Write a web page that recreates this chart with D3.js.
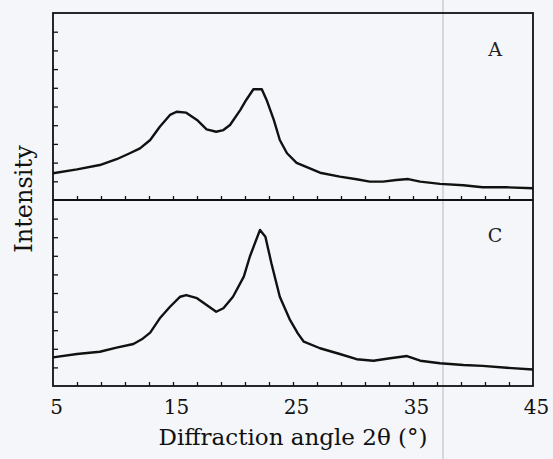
<!DOCTYPE html>
<html>
  <head>
    <meta charset="utf-8">
    <title>xrd A and C</title>
    <style>
      body {
        margin: 0;
        background-color: #f4f6f9;
      }
      svg {
        display: block;
      }
      .tick text {
        font-family: "DejaVu Serif", serif;
      }
    </style>
  </head>
  <body>
    <div id="chart"></div>

    <script src="https://d3js.org/d3.v7.min.js"></script>
    <script>
    // pattern A (upper panel)
    var angleA = [5, 7, 8.9, 10.3, 11.4, 12.25, 13.1, 13.9, 14.75, 15.3,
      16.1, 17, 17.8, 18.6, 19.2, 19.75, 20.6, 21.1, 21.7, 22.4,
      22.8, 23.4, 23.9, 24.5, 25.3, 25.9, 27.25, 28.9, 30.3, 31.4,
      32.5, 33.6, 34.6, 35.6, 37.25, 39.2, 40.8, 42.8, 45];
    var intensityA = [1.43, 1.64, 1.87, 2.18, 2.5, 2.76, 3.21, 3.92, 4.55, 4.72,
      4.67, 4.28, 3.78, 3.65, 3.74, 4.01, 4.81, 5.35, 5.92, 5.92,
      5.35, 4.28, 3.21, 2.5, 1.99, 1.82, 1.46, 1.25, 1.11, 0.98,
      0.98, 1.07, 1.12, 0.98, 0.86, 0.79, 0.68, 0.68, 0.63];

    // pattern C (lower panel)
    var angleC = [5, 7, 8.9, 10.3, 11.7, 12.4, 13.1, 13.9, 14.75, 15.6,
      16.1, 17, 17.8, 18.6, 19.2, 20, 20.9, 21.4, 22.25, 22.7,
      23.2, 23.9, 24.75, 25.4, 25.9, 27.25, 28.9, 30.3, 31.7, 33.1,
      34.5, 35.6, 37.25, 39.2, 40.8, 42.8, 45];
    var intensityC = [1.54, 1.72, 1.84, 2.06, 2.26, 2.51, 2.87, 3.64, 4.26, 4.8,
      4.89, 4.72, 4.35, 3.99, 4.18, 4.8, 5.88, 6.95, 8.39, 8.03,
      6.6, 4.8, 3.55, 2.83, 2.38, 2.03, 1.72, 1.44, 1.36, 1.49,
      1.61, 1.36, 1.22, 1.13, 1.08, 0.98, 0.89];

    var xLabels = [5, 15, 25, 35, 45];
    var xMinor = [7, 9, 11, 13, 15, 17, 19, 21, 23, 25, 27, 29, 31, 33, 35, 37, 39, 41, 43];
    var yMinor = [1, 2, 3, 4, 5, 6, 7, 8, 9];
    var panelNames = ["A", "C"];

    var width = 553;
    var height = 459;
    var padLeft = 53, padRight = 533, padTop = 13, padMid = 200, padBottom = 386;

    var svg = d3.select("#chart").append("svg")
      .attr("width", width)
      .attr("height", height);

    // faint fold line from the scan
    svg.append("line")
      .attr("x1", 443).attr("x2", 443)
      .attr("y1", 0).attr("y2", height)
      .attr("stroke", "#c9ced6")
      .attr("stroke-width", 1.5);

    var x = d3.scaleLinear().domain([5, 45]).range([padLeft, padRight]);
    var yA = d3.scaleLinear().domain([0, 10]).range([padMid, padTop]);
    var yC = d3.scaleLinear().domain([0, 10]).range([padBottom, padMid]);

    function minorAxes(y, yPos) {
      svg.append("g")
        .attr("transform", "translate(0," + yPos + ")")
        .call(d3.axisTop(x).tickValues(xMinor).tickSize(4).tickFormat(""))
        .call(function(g) { g.select(".domain").remove(); })
        .selectAll("line").attr("stroke", "#111").attr("stroke-width", 1.3);
      svg.append("g")
        .attr("transform", "translate(" + padLeft + ",0)")
        .call(d3.axisRight(y).tickValues(yMinor).tickSize(5).tickFormat(""))
        .call(function(g) { g.select(".domain").remove(); })
        .selectAll("line").attr("stroke", "#111").attr("stroke-width", 1.3);
    }
    minorAxes(yA, padMid);
    minorAxes(yC, padBottom);

    // frames
    svg.append("rect")
      .attr("x", padLeft).attr("y", padTop)
      .attr("width", padRight - padLeft).attr("height", padBottom - padTop)
      .attr("fill", "none")
      .attr("stroke", "#111")
      .attr("stroke-width", 1.8);
    svg.append("line")
      .attr("x1", padLeft).attr("x2", padRight)
      .attr("y1", padMid).attr("y2", padMid)
      .attr("stroke", "#111")
      .attr("stroke-width", 1.8);

    // curves
    var lineA = d3.line()
      .x(function(d, i) { return x(angleA[i]); })
      .y(function(d) { return yA(d); });
    var lineC = d3.line()
      .x(function(d, i) { return x(angleC[i]); })
      .y(function(d) { return yC(d); });

    svg.append("path")
      .datum(intensityA)
      .attr("d", lineA)
      .attr("fill", "none")
      .attr("stroke", "#111")
      .attr("stroke-width", 2.4)
      .attr("stroke-linejoin", "round");
    svg.append("path")
      .datum(intensityC)
      .attr("d", lineC)
      .attr("fill", "none")
      .attr("stroke", "#111")
      .attr("stroke-width", 2.4)
      .attr("stroke-linejoin", "round");

    // x tick labels
    var xAxis = svg.append("g")
      .attr("transform", "translate(0," + padBottom + ")")
      .call(d3.axisBottom(x).tickValues(xLabels).tickSize(0).tickPadding(14));
    xAxis.select(".domain").remove();
    xAxis.selectAll("text")
      .attr("dx", 3)
      .attr("fill", "#111")
      .style("font-size", "20px");

    // panel letters
    svg.selectAll(".panel")
      .data(panelNames)
      .enter()
      .append("text")
      .attr("class", "panel")
      .attr("x", 495)
      .attr("y", function(d, i) { return i == 0 ? 56 : 242; })
      .attr("text-anchor", "middle")
      .attr("font-family", "DejaVu Serif, serif")
      .attr("font-size", 19)
      .attr("fill", "#222")
      .text(function(d) { return d; });

    svg.append("text")
      .attr("transform", "translate(32,199) rotate(-90)")
      .attr("text-anchor", "middle")
      .attr("font-family", "DejaVu Serif, serif")
      .attr("font-size", 24)
      .attr("fill", "#111")
      .text("Intensity");

    svg.append("text")
      .attr("x", 293)
      .attr("y", 445)
      .attr("text-anchor", "middle")
      .attr("font-family", "DejaVu Serif, serif")
      .attr("font-size", 23)
      .attr("fill", "#111")
      .text("Diffraction angle 2θ (°)");
    </script>
  </body>
</html>
